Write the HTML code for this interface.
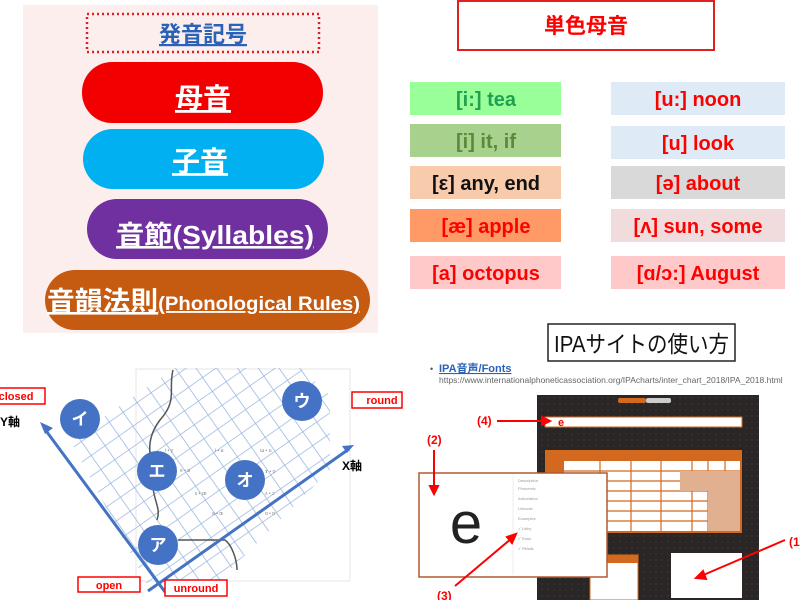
<!DOCTYPE html>
<html><head><meta charset="utf-8"><style>
body{margin:0;background:#fff;width:800px;height:600px;overflow:hidden}
svg text{font-family:"Liberation Sans","Noto Sans CJK JP",sans-serif}
</style></head><body>
<svg width="800" height="600" viewBox="0 0 800 600" xmlns="http://www.w3.org/2000/svg">
<defs>
<pattern id="g" width="17" height="17" patternUnits="userSpaceOnUse" patternTransform="rotate(-35)">
<path d="M0 0H17M0 0V17" stroke="#9bb8e0" stroke-width="1.6" fill="none"/>
</pattern>
<clipPath id="gc"><polygon points="70,440 175,368 300,368 330,395 330,470 210,590 150,590"/></clipPath>
<pattern id="dk" width="6" height="6" patternUnits="userSpaceOnUse"><rect width="6" height="6" fill="#2a2625"/><circle cx="2" cy="2" r=".6" fill="#444"/></pattern>
</defs>

<!-- top-left panel -->
<rect x="23" y="5" width="355" height="328" fill="#fdeeee"/>
<rect x="87" y="14" width="232" height="38" fill="none" stroke="#e02020" stroke-width="2.5" stroke-dasharray="2,3"/>
<text x="203" y="42" font-size="22" font-weight="bold" fill="#2a62b8" text-anchor="middle" text-decoration="underline">発音記号</text>
<rect x="82" y="62" width="241" height="61" rx="30" fill="#f20000"/>
<text x="203" y="108" font-size="28" font-weight="bold" fill="#fff" text-anchor="middle" text-decoration="underline">母音</text>
<rect x="83" y="129" width="241" height="60" rx="30" fill="#00b0f0"/>
<text x="200" y="171" font-size="28" font-weight="bold" fill="#fff" text-anchor="middle" text-decoration="underline">子音</text>
<rect x="87" y="199" width="241" height="60" rx="30" fill="#7030a0"/>
<text x="116" y="244" font-size="26" font-weight="bold" fill="#fff" textLength="198" lengthAdjust="spacingAndGlyphs" text-decoration="underline">音節(Syllables)</text>
<rect x="45" y="270" width="325" height="60" rx="30" fill="#c55a11"/>
<text x="47" y="310" font-size="26" font-weight="bold" fill="#fff" textLength="313" lengthAdjust="spacingAndGlyphs" text-decoration="underline">音韻法則<tspan font-size="19">(Phonological Rules)</tspan></text>

<!-- top-right -->
<rect x="458" y="1" width="256" height="49" fill="#fff" stroke="#e02020" stroke-width="2"/>
<text x="586" y="33" font-size="21" font-weight="bold" fill="#f00" text-anchor="middle">単色母音</text>
<g font-size="20" font-weight="bold" text-anchor="middle">
<rect x="410" y="82" width="151" height="33" fill="#99ff99"/><text x="486" y="106" fill="#22a050">[i:] tea</text>
<rect x="410" y="124" width="151" height="33" fill="#a9d18e"/><text x="486" y="148" fill="#5a8a3a">[i] it, if</text>
<rect x="410" y="166" width="151" height="33" fill="#f8cbad"/><text x="486" y="190" fill="#111">[ε] any, end</text>
<rect x="410" y="209" width="151" height="33" fill="#ff9966"/><text x="486" y="233" fill="#f00">[æ] apple</text>
<rect x="410" y="256" width="151" height="33" fill="#ffc9c9"/><text x="486" y="280" fill="#f00">[a] octopus</text>
<rect x="611" y="82" width="174" height="33" fill="#deebf7"/><text x="698" y="106" fill="#f00">[u:] noon</text>
<rect x="611" y="126" width="174" height="33" fill="#deebf7"/><text x="698" y="150" fill="#f00">[u] look</text>
<rect x="611" y="166" width="174" height="33" fill="#d9d9d9"/><text x="698" y="190" fill="#f00">[ə] about</text>
<rect x="611" y="209" width="174" height="33" fill="#f0dcdc"/><text x="698" y="233" fill="#f00">[ʌ] sun, some</text>
<rect x="611" y="256" width="174" height="33" fill="#ffc9c9"/><text x="698" y="280" fill="#f00">[ɑ/ɔ:] August</text>
</g>

<!-- bottom-left -->
<rect x="136" y="369" width="214" height="212" fill="#fff" stroke="#e6e6e6"/>
<rect x="40" y="360" width="300" height="240" fill="url(#g)" clip-path="url(#gc)"/>
<path d="M173 370 C168 390,178 400,160 420 C145 440,150 455,153 470 C150 500,162 505,157 520 M178 540 L225 540 C232 545,237 560,237 570" stroke="#555" stroke-width="1.5" fill="none"/>
<g font-size="5" fill="#888"><text x="165" y="452">i • y</text><text x="215" y="452">ɨ • ʉ</text><text x="260" y="452">ɯ • u</text><text x="180" y="472">e • ø</text><text x="195" y="495">ɛ • œ</text><text x="212" y="515">a • ɶ</text><text x="265" y="473">ɤ • o</text><text x="265" y="495">ʌ • ɔ</text><text x="265" y="515">ɑ • ɒ</text></g>
<line x1="165" y1="592" x2="44" y2="428" stroke="#4472c4" stroke-width="3"/>
<polygon points="40,422 53,428 45,434" fill="#4472c4"/>
<line x1="148" y1="591" x2="349" y2="449" stroke="#4472c4" stroke-width="3"/>
<polygon points="354,445 342,446 347,453" fill="#4472c4"/>
<g fill="#4472c4"><circle cx="80" cy="419" r="20"/><circle cx="302" cy="401" r="20"/><circle cx="157" cy="471" r="20"/><circle cx="245" cy="480" r="20"/><circle cx="158" cy="545" r="20"/></g>
<g fill="#fff" font-size="17" font-weight="bold" text-anchor="middle"><text x="80" y="425">イ</text><text x="302" y="407">ウ</text><text x="157" y="477">エ</text><text x="245" y="486">オ</text><text x="158" y="551">ア</text></g>
<g fill="#fff" stroke="#f00" stroke-width="1.5"><rect x="-2" y="388" width="47" height="16"/><rect x="352" y="392" width="50" height="16"/><rect x="78" y="577" width="62" height="15"/><rect x="165" y="580" width="62" height="16"/></g>
<g fill="#f00" font-size="11" font-weight="bold" text-anchor="middle"><text x="16" y="400">closed</text><text x="382" y="404">round</text><text x="109" y="589">open</text><text x="196" y="592">unround</text></g>
<text x="0" y="426" font-size="12" font-weight="bold">Y軸</text>
<text x="342" y="470" font-size="12" font-weight="bold">X軸</text>

<!-- bottom-right -->
<rect x="548" y="324" width="187" height="37" fill="#fff" stroke="#222" stroke-width="1.5"/>
<text x="554" y="352" font-size="23" fill="#111" textLength="175" lengthAdjust="spacingAndGlyphs">IPAサイトの使い方</text>
<text x="430" y="372" font-size="9" fill="#555">•</text>
<text x="439" y="372" font-size="11" font-weight="bold" fill="#2a62b8" text-decoration="underline">IPA音声/Fonts</text>
<text x="439" y="383" font-size="8.5" fill="#666">https://www.internationalphoneticassociation.org/IPAcharts/inter_chart_2018/IPA_2018.html</text>
<rect x="537" y="395" width="222" height="205" fill="url(#dk)"/>
<rect x="618" y="398" width="28" height="5" rx="2" fill="#d2691e"/><rect x="646" y="398" width="25" height="5" rx="2" fill="#ccc"/>
<rect x="545" y="417" width="197" height="10" fill="#fff" stroke="#d2691e"/>
<text x="558" y="426" font-size="11" font-weight="bold" fill="#f00">e</text>
<rect x="545" y="450" width="197" height="83" fill="#d2691e"/>
<rect x="564" y="461" width="176" height="70" fill="#fff"/>
<g stroke="#d2691e" stroke-width="1.2"><path d="M564 471H740M564 481H740M564 491H740M564 501H740M564 511H740M564 521H740M600 461V531M631 461V531M661 461V531M692 461V531M708 461V531M725 461V531"/></g>
<rect x="680" y="471" width="60" height="20" fill="#e0b090"/><rect x="708" y="491" width="32" height="40" fill="#e0b090"/>
<rect x="671" y="553" width="71" height="45" fill="#fff"/>
<rect x="590" y="555" width="48" height="45" fill="#fff" stroke="#d2691e"/><rect x="590" y="555" width="48" height="8" fill="#d2691e"/>
<rect x="419" y="473" width="188" height="104" fill="#fff" stroke="#b05a30" stroke-width="1.5"/>
<line x1="513" y1="475" x2="513" y2="575" stroke="#eee"/>
<text x="466" y="543" font-size="58" fill="#222" text-anchor="middle">e</text>
<g fill="#999" font-size="4"><text x="518" y="482">Description</text><text x="518" y="490">Phonemic</text><text x="518" y="500">Articulation</text><text x="518" y="510">Unicode</text><text x="518" y="520">Examples</text><text x="518" y="530">✓ Libby</text><text x="518" y="540">✓ Ross</text><text x="518" y="550">✓ Pitfalls</text></g>
<g fill="#f00" font-size="12" font-weight="bold"><text x="477" y="425">(4)</text><text x="427" y="444">(2)</text><text x="437" y="600">(3)</text><text x="789" y="546">(1)</text></g>
<g stroke="#f00" stroke-width="2" fill="#f00">
<line x1="497" y1="421" x2="545" y2="421"/><polygon points="550,421 542,417 542,425"/>
<line x1="434" y1="450" x2="434" y2="488"/><polygon points="434,494 430,486 438,486"/>
<line x1="455" y1="586" x2="512" y2="538"/><polygon points="516,534 507,537 512,543"/>
<line x1="785" y1="540" x2="701" y2="576"/><polygon points="696,578 703,571 706,579"/>
</g>
</svg>
</body></html>
